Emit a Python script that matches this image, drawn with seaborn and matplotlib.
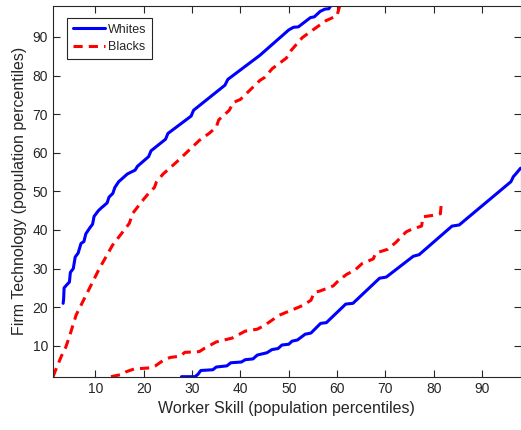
import matplotlib
matplotlib.use("Agg")
import matplotlib.pyplot as plt
import seaborn as sns
import pandas as pd
from matplotlib.lines import Line2D

# ---- data ----
white_hi_x = [3.3, 3.4, 3.5, 4.2, 4.6, 4.8, 5.4, 5.8, 6.4, 7.0, 7.6, 8.0, 8.8, 9.4, 9.7, 10.6, 11.2,
              12.4, 12.8, 13.6, 14.0, 14.8, 16.6, 18.2, 18.7, 21.0, 21.5, 24.5, 25.0, 29.8, 30.3,
              36.8, 37.4, 44.0, 50.0, 51.0, 52.0, 54.5, 55.3, 56.5, 57.5, 58.3, 58.8]
white_hi_y = [21, 22, 25, 26, 26.5, 29, 30, 33, 34, 36.5, 37, 39, 40.5, 41.5, 43.5, 45, 45.7,
              47, 48.5, 49.5, 51, 52.5, 54.5, 55.5, 56.5, 59, 60.5, 63.5, 65, 69.5, 71,
              77.5, 79, 85.2, 91.8, 92.5, 92.6, 95, 95.2, 96.6, 97.2, 97.3, 98.2]

black_hi_x = [1.2, 2.0, 3.0, 3.8, 4.5, 6.0, 8.4, 10.8, 13.5, 17.0, 17.7, 20.0, 21.0, 22.2, 22.6,
              24.0, 26.7, 31.5, 33.5, 35.0, 35.5, 37.7, 38.5, 40.0, 44.0, 45.0, 46.6, 49.5, 50.5,
              52.8, 55.0, 57.7, 60.0, 60.4, 60.6]
black_hi_y = [2, 4.5, 7.5, 9.5, 12, 18, 24, 30, 36, 41.7, 44.3, 48, 49.5, 51, 52.4,
              54.5, 57.5, 63.2, 65, 66.6, 68.5, 71, 73, 73.8, 78.7, 79.5, 81.8, 84.5, 86.5,
              89.8, 91.8, 94.2, 95.5, 97.3, 98.2]

white_lo_x = [27.8, 30.6, 31.2, 31.8, 34.3, 35.0, 37.2, 38.0, 40.2, 41.0, 42.6, 43.5, 45.5, 46.5,
              47.8, 48.6, 50.0, 50.7, 51.8, 53.4, 54.6, 56.6, 57.8, 61.8, 63.3, 68.8, 70.2, 75.8,
              77.0, 83.8, 85.3, 96.0, 96.5, 97.0, 98.0]
white_lo_y = [2, 2, 2.6, 3.6, 3.8, 4.5, 4.8, 5.6, 5.8, 6.4, 6.6, 7.6, 8.2, 9,
              9.3, 10.2, 10.4, 11.2, 11.5, 13, 13.3, 15.8, 16, 20.8, 21, 27.5, 27.8, 33.2,
              33.6, 41, 41.3, 52.5, 53.8, 54.5, 56]

black_lo_x = [13.2, 15.5, 16.4, 18.0, 21.5, 22.4, 24.0, 25.5, 27.5, 28.5, 31.5, 32.5, 35.0, 38.3,
              39.5, 41.0, 43.5, 45.0, 48.0, 51.5, 53.0, 54.6, 55.3, 56.5, 59.2, 60.4, 62.0, 63.8,
              65.2, 67.5, 68.0, 70.5, 72.2, 74.3, 75.5, 77.5, 77.8, 81.0, 81.4, 81.6]
black_lo_y = [2, 2.6, 3.3, 4, 4.3, 4.8, 6.2, 7, 7.3, 8.3, 8.5, 9.3, 11, 12,
              12.8, 13.8, 14.3, 15.3, 17.9, 19.7, 20.5, 21.8, 23.8, 24.2, 25.5, 27, 28.5, 29.7,
              31.3, 32.5, 34, 35, 36.8, 39.5, 40.2, 41, 43.4, 44, 44.2, 47]

series_names = ["Whites", "Blacks"]
x_ticks = [10, 20, 30, 40, 50, 60, 70, 80, 90]
y_ticks = [10, 20, 30, 40, 50, 60, 70, 80, 90]

# ---- build a long table ----
frames = []
for name, branch, xs, ys in [("Whites", "hi", white_hi_x, white_hi_y),
                             ("Whites", "lo", white_lo_x, white_lo_y),
                             ("Blacks", "hi", black_hi_x, black_hi_y),
                             ("Blacks", "lo", black_lo_x, black_lo_y)]:
    frames.append(pd.DataFrame({"x": xs, "y": ys, "group": name, "branch": name + branch}))
df = pd.concat(frames, ignore_index=True)

sns.set_style("ticks")
plt.rcParams["font.family"] = ["Liberation Sans", "DejaVu Sans"]

fig = plt.figure(figsize=(5.21, 4.30), dpi=100)
ax = fig.add_axes([0.1017, 0.124, 0.8975, 0.862])

palette = {"Whites": "#0000ff", "Blacks": "#ff0000"}
dash_map = {"Whites": "", "Blacks": (3, 2)}
sns.lineplot(data=df, x="x", y="y", hue="group", style="group", units="branch",
             estimator=None, sort=False, palette=palette, dashes=dash_map,
             linewidth=2.2, legend=False, ax=ax)

ax.set_xlim(1.2, 98)
ax.set_ylim(2, 98)
ax.set_xticks(x_ticks)
ax.set_yticks(y_ticks)
ax.set_xlabel("Worker Skill (population percentiles)", fontsize=11.5, color="#262626", labelpad=4)
ax.set_ylabel("Firm Technology (population percentiles)", fontsize=11.5, color="#262626", labelpad=4)

ax.tick_params(direction="in", length=5, width=0.8, colors="#262626", labelsize=10,
               top=True, right=True, labeltop=False, labelright=False)
for s in ax.spines.values():
    s.set_visible(True)
    s.set_color("#262626")
    s.set_linewidth(0.8)

handles = [Line2D([0], [0], color="#0000ff", lw=2.2),
           Line2D([0], [0], color="#ff0000", lw=2.2, dashes=(3, 2))]
leg = ax.legend(handles, series_names, loc="upper left", bbox_to_anchor=(0.03, 0.968),
                borderaxespad=0, fontsize=9, handlelength=2.6, handletextpad=0.2,
                fancybox=False, framealpha=1, edgecolor="#262626", borderpad=0.45,
                labelspacing=0.45)
leg.get_frame().set_linewidth(0.8)

fig.savefig("out.png", dpi=100)
